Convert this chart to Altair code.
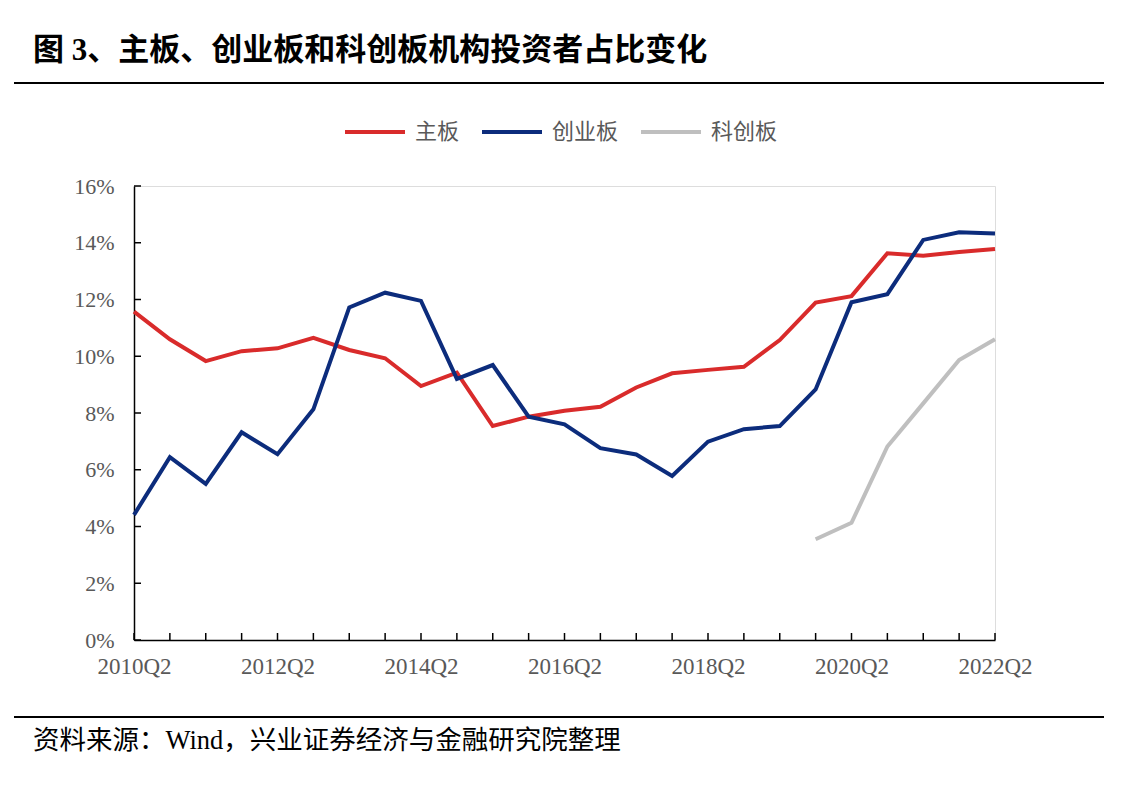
import altair as alt
import pandas as pd

periods = ["2010Q2", "2010Q4", "2011Q2", "2011Q4", "2012Q2", "2012Q4", "2013Q2", "2013Q4",
           "2014Q2", "2014Q4", "2015Q2", "2015Q4", "2016Q2", "2016Q4", "2017Q2", "2017Q4",
           "2018Q2", "2018Q4", "2019Q2", "2019Q4", "2020Q2", "2020Q4", "2021Q2", "2021Q4",
           "2022Q2"]
label_periods = ["2010Q2", "2012Q2", "2014Q2", "2016Q2", "2018Q2", "2020Q2", "2022Q2"]

main_board = [11.57, 10.60, 9.83, 10.18, 10.28, 10.65, 10.22, 9.93, 8.95, 9.42, 7.54, 7.87,
              8.08, 8.22, 8.90, 9.40, 9.52, 9.63, 10.57, 11.89, 12.12, 13.63, 13.54, 13.67, 13.78]
chinext = [4.41, 6.44, 5.50, 7.32, 6.55, 8.13, 11.72, 12.24, 11.95, 9.20, 9.69, 7.87,
           7.60, 6.76, 6.54, 5.78, 6.99, 7.43, 7.54, 8.83, 11.90, 12.19, 14.10, 14.37, 14.33]
star_periods = ["2019Q4", "2020Q2", "2020Q4", "2021Q2", "2021Q4", "2022Q2"]
star = [3.55, 4.13, 6.82, 8.34, 9.87, 10.60]

series_names = ["主板", "创业板", "科创板"]
series_colors = ["#D92B2B", "#0C2C7C", "#BFBFBF"]
y_ticks = [0, 2, 4, 6, 8, 10, 12, 14, 16]

title_text = "图 3、主板、创业板和科创板机构投资者占比变化"
source_text = "资料来源：Wind，兴业证券经济与金融研究院整理"

W, H = 861, 454
SERIF = "Liberation Serif, 'Noto Sans CJK SC'"

rows = []
for p, v in zip(periods, main_board):
    rows.append({"period": p, "value": v, "series": "主板"})
for p, v in zip(periods, chinext):
    rows.append({"period": p, "value": v, "series": "创业板"})
for p, v in zip(star_periods, star):
    rows.append({"period": p, "value": v, "series": "科创板"})
df = pd.DataFrame(rows)

x_scale = alt.Scale(type="point", domain=periods, padding=0)
y_scale = alt.Scale(domain=[0, 16], nice=False)

lines = alt.Chart(df).mark_line(strokeWidth=4, strokeJoin="miter").encode(
    x=alt.X("period:O", scale=x_scale, sort=periods,
            axis=alt.Axis(title=None, values=label_periods, ticks=False, labelAngle=0,
                          labelAlign="center", labelBaseline="top",
                          labelFont=SERIF, labelFontSize=23, labelColor="#595959",
                          labelPadding=15, domainColor="#000000", domainWidth=1.5,
                          grid=False, labelOverlap=False)),
    y=alt.Y("value:Q", scale=y_scale,
            axis=alt.Axis(title=None, values=y_ticks, ticks=False, grid=False,
                          labelExpr="datum.value + '%'", labelFont=SERIF,
                          labelFontSize=22, labelColor="#595959", labelPadding=20,
                          domainColor="#000000", domainWidth=1.5)),
    color=alt.Color("series:N", scale=alt.Scale(domain=series_names, range=series_colors),
                    legend=alt.Legend(title=None, orient="none", legendX=209, legendY=-86,
                                      direction="horizontal", symbolType="stroke",
                                      symbolSize=3600, symbolStrokeWidth=4,
                                      labelFont="Noto Sans CJK SC", labelFontSize=22,
                                      labelColor="#595959", labelOffset=8,
                                      columnPadding=14, padding=0)),
    detail="series:N",
)

xtick_df = pd.DataFrame({"period": periods})
xticks = alt.Chart(xtick_df).mark_rule(color="#000000", strokeWidth=1.5).encode(
    x=alt.X("period:O", scale=x_scale, sort=periods),
    y=alt.value(H), y2=alt.value(H - 7))

ytick_df = pd.DataFrame({"value": y_ticks})
yticks = alt.Chart(ytick_df).mark_rule(color="#000000", strokeWidth=1.5).encode(
    y=alt.Y("value:Q", scale=y_scale), x=alt.value(0), x2=alt.value(7))

title_df = pd.DataFrame({"t": [title_text]})
title = alt.Chart(title_df).mark_text(align="left", baseline="middle", font=SERIF,
                                      fontSize=31, fontWeight="bold", color="#000000").encode(
    text="t:N", x=alt.value(-101), y=alt.value(-135))

source_df = pd.DataFrame({"t": [source_text]})
source = alt.Chart(source_df).mark_text(align="left", baseline="middle", font=SERIF,
                                        fontSize=26.5, color="#000000").encode(
    text="t:N", x=alt.value(-101), y=alt.value(555))

rule_df = pd.DataFrame({"k": [0]})
top_rule = alt.Chart(rule_df).mark_rule(color="#000000", strokeWidth=2).encode(
    x=alt.value(-120), x2=alt.value(970), y=alt.value(-103))
bottom_rule = alt.Chart(rule_df).mark_rule(color="#000000", strokeWidth=2).encode(
    x=alt.value(-120), x2=alt.value(970), y=alt.value(531))

chart = alt.layer(xticks, yticks, lines, title, source, top_rule, bottom_rule).properties(
    width=W, height=H,
    autosize=alt.AutoSizeParams(type="none"),
    padding={"left": 126, "top": 178, "right": 122, "bottom": 153},
).configure_view(stroke=None).configure(background="#FFFFFF")

chart.save("out.html", embed_options={"renderer": "svg", "actions": False})
